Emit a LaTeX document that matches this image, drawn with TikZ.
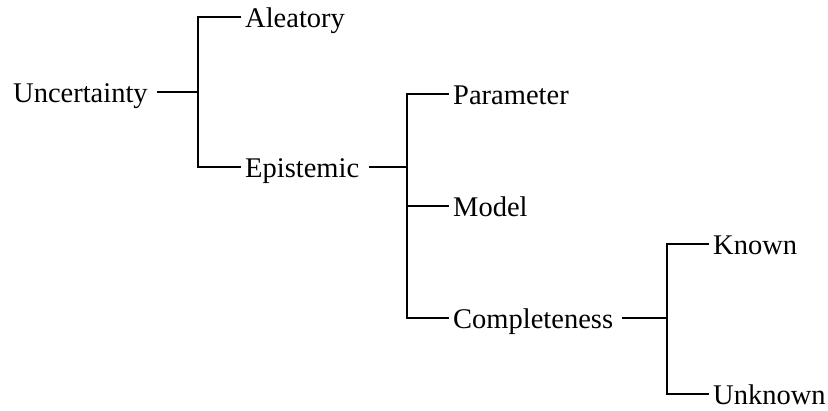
\documentclass[tikz,border=0pt]{standalone}
\usepackage{fontspec}
\setmainfont{Liberation Serif}
\begin{document}
\begin{tikzpicture}[x=1pt,y=-1pt,
  lbl/.style={anchor=west,inner xsep=0pt,inner ysep=0pt,text height=20pt,text depth=0pt,font=\fontsize{28.5}{34}\selectfont},
  conn/.style={line width=2pt}]
\useasboundingbox (0,0) rectangle (828,410);
\node[lbl] (unc) at (13,92) {Uncertainty};
\node[lbl] (ale) at (245,17) {Aleatory};
\node[lbl] (epi) at (245,167) {Epistemic};
\node[lbl] (par) at (453,94) {Parameter};
\node[lbl] (mod) at (453,206) {Model};
\node[lbl] (com) at (453,318) {Completeness};
\node[lbl] (kno) at (713,244) {Known};
\node[lbl] (unk) at (713,394) {Unknown};
\coordinate (f1) at (198,92);
\coordinate (f2) at (407,167);
\coordinate (f3) at (667,318);
\draw[conn] ([xshift=9pt]unc.east) -- (f1);
\draw[conn] ([xshift=-4pt]ale.west) -| (f1) |- ([xshift=-4pt]epi.west);
\draw[conn] ([xshift=10pt]epi.east) -- (f2);
\draw[conn] ([xshift=-4pt]par.west) -| (f2) |- ([xshift=-4pt]com.west);
\draw[conn] ([xshift=-4pt]mod.west) -- (mod.west -| f2);
\draw[conn] ([xshift=9pt]com.east) -- (f3);
\draw[conn] ([xshift=-4pt]kno.west) -| (f3) |- ([xshift=-4pt]unk.west);
\end{tikzpicture}
\end{document}
